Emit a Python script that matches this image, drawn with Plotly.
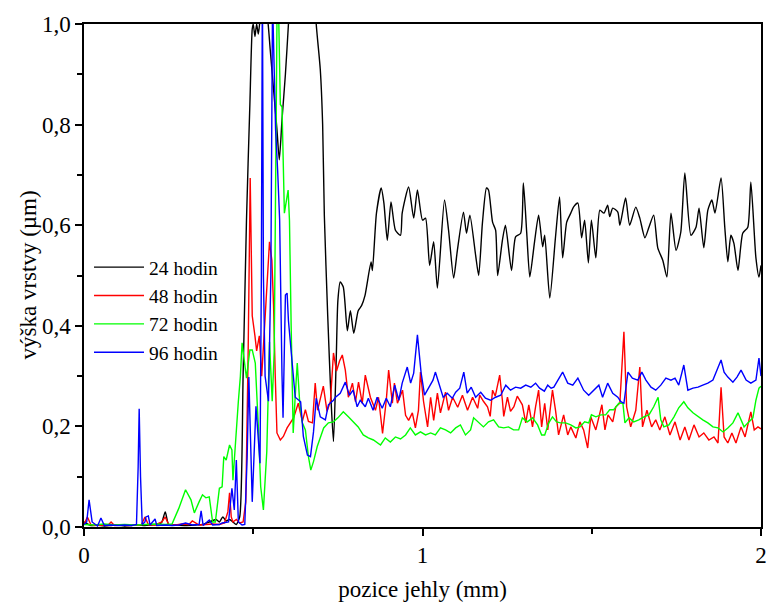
import plotly.graph_objects as go

# ---- data: 24 hodin (black) ----
x_24 = [0, 0.02, 0.04, 0.06, 0.08, 0.10, 0.12, 0.14, 0.16, 0.18, 0.20, 0.22, 0.23, 0.24, 0.25, 0.27, 0.30, 0.33,
        0.35, 0.37, 0.39, 0.40, 0.41, 0.42, 0.43, 0.44, 0.45, 0.46, 0.47, 0.48, 0.49, 0.497, 0.50, 0.505, 0.51,
        0.515, 0.52, 0.525, 0.535, 0.544, 0.55, 0.56, 0.57, 0.577, 0.585, 0.595, 0.604, 0.62, 0.65, 0.67, 0.686,
        0.698, 0.705, 0.71, 0.72, 0.73, 0.737, 0.745, 0.75, 0.757, 0.766, 0.778, 0.787, 0.797, 0.81, 0.82, 0.83,
        0.848, 0.852, 0.864, 0.878, 0.886, 0.896, 0.907, 0.92, 0.935, 0.94, 0.959, 0.974, 0.985, 1.0, 1.009,
        1.021, 1.033, 1.044, 1.065, 1.077, 1.092, 1.103, 1.121, 1.13, 1.14, 1.157, 1.166, 1.177, 1.189, 1.195,
        1.207, 1.216, 1.222, 1.236, 1.245, 1.263, 1.275, 1.29, 1.298, 1.308, 1.317, 1.331, 1.343, 1.355, 1.361,
        1.376, 1.393, 1.405, 1.414, 1.426, 1.438, 1.446, 1.459, 1.47, 1.479, 1.49, 1.499, 1.512, 1.524, 1.536,
        1.547, 1.553, 1.562, 1.577, 1.583, 1.6, 1.612, 1.63, 1.642, 1.657, 1.669, 1.683, 1.695, 1.71, 1.722,
        1.734, 1.749, 1.763, 1.775, 1.793, 1.808, 1.817, 1.831, 1.843, 1.855, 1.864, 1.882, 1.893, 1.902, 1.911,
        1.92, 1.932, 1.946, 1.961, 1.97, 1.985, 1.994, 2.0]
y_24 = [0.01, 0.003, 0.004, 0.002, 0.003, 0.004, 0.002, 0.003, 0.004, 0.003, 0.004, 0.005, 0.01, 0.03, 0.005,
        0.004, 0.003, 0.004, 0.005, 0.01, 0.015, 0.01, 0.02, 0.012, 0.015, 0.01, 0.005, 0.02, 0.3, 0.61, 0.84,
        0.99, 1.0, 0.975, 1.0, 0.98, 1.01, 1.08, 1.05, 1.0, 0.95, 0.87, 0.79, 0.73, 0.81, 0.9, 1.0, 1.2, 1.3,
        1.2, 1.0, 0.91, 0.8, 0.62, 0.42, 0.25, 0.17, 0.33, 0.45, 0.487, 0.477, 0.39, 0.43, 0.385, 0.43, 0.44,
        0.46, 0.527, 0.51, 0.624, 0.674, 0.644, 0.57, 0.646, 0.59, 0.58, 0.624, 0.676, 0.614, 0.67, 0.61, 0.614,
        0.52, 0.567, 0.475, 0.65, 0.59, 0.495, 0.55, 0.626, 0.584, 0.62, 0.54, 0.50, 0.604, 0.674, 0.67, 0.606,
        0.59, 0.50, 0.57, 0.60, 0.51, 0.577, 0.584, 0.684, 0.584, 0.497, 0.567, 0.62, 0.557, 0.58, 0.455, 0.577,
        0.656, 0.535, 0.606, 0.624, 0.636, 0.644, 0.575, 0.61, 0.525, 0.61, 0.535, 0.63, 0.624, 0.64, 0.617,
        0.634, 0.626, 0.60, 0.654, 0.60, 0.636, 0.614, 0.575, 0.596, 0.62, 0.555, 0.53, 0.497, 0.624, 0.55,
        0.586, 0.704, 0.58, 0.596, 0.634, 0.555, 0.63, 0.65, 0.624, 0.694, 0.596, 0.527, 0.58, 0.564, 0.51,
        0.584, 0.596, 0.686, 0.535, 0.497, 0.52]

# ---- data: 48 hodin (red) ----
x_48 = [0, 0.01, 0.02, 0.03, 0.05, 0.07, 0.08, 0.09, 0.11, 0.13, 0.15, 0.17, 0.18, 0.19, 0.21, 0.23, 0.24, 0.25,
        0.27, 0.29, 0.31, 0.32, 0.34, 0.36, 0.38, 0.40, 0.415, 0.425, 0.43, 0.435, 0.44, 0.45, 0.46, 0.47, 0.478,
        0.485, 0.491, 0.497, 0.50, 0.505, 0.51, 0.518, 0.525, 0.535, 0.548, 0.555, 0.56, 0.565, 0.57, 0.58,
        0.589, 0.60, 0.609, 0.619, 0.633, 0.645, 0.654, 0.663, 0.675, 0.683, 0.69, 0.707, 0.718, 0.728, 0.737,
        0.746, 0.755, 0.763, 0.772, 0.781, 0.793, 0.802, 0.811, 0.822, 0.831, 0.846, 0.861, 0.87, 0.882, 0.893,
        0.9, 0.911, 0.917, 0.926, 0.941, 0.95, 0.959, 0.97, 0.979, 0.988, 0.994, 1.003, 1.015, 1.024, 1.033,
        1.044, 1.053, 1.068, 1.077, 1.089, 1.104, 1.118, 1.133, 1.148, 1.163, 1.169, 1.18, 1.192, 1.2, 1.207,
        1.215, 1.228, 1.236, 1.24, 1.251, 1.26, 1.27, 1.28, 1.295, 1.305, 1.314, 1.325, 1.334, 1.343, 1.352,
        1.361, 1.37, 1.384, 1.393, 1.402, 1.417, 1.429, 1.438, 1.453, 1.465, 1.476, 1.488, 1.497, 1.512, 1.53,
        1.539, 1.548, 1.562, 1.571, 1.583, 1.595, 1.603, 1.615, 1.63, 1.642, 1.65, 1.663, 1.677, 1.689, 1.701,
        1.716, 1.731, 1.746, 1.761, 1.775, 1.787, 1.802, 1.817, 1.831, 1.846, 1.861, 1.873, 1.882, 1.891, 1.902,
        1.914, 1.926, 1.941, 1.953, 1.97, 1.98, 1.991, 2.0]
y_48 = [0.005, 0.02, 0.005, 0.003, 0.004, 0.003, 0.01, 0.003, 0.004, 0.003, 0.004, 0.005, 0.02, 0.005, 0.004,
        0.01, 0.02, 0.005, 0.004, 0.006, 0.005, 0.012, 0.004, 0.005, 0.006, 0.005, 0.008, 0.03, 0.068, 0.02,
        0.01, 0.015, 0.008, 0.01, 0.05, 0.35, 0.694, 0.42, 0.40, 0.38, 0.35, 0.38, 0.30, 0.41, 0.567, 0.53, 0.44,
        0.30, 0.187, 0.173, 0.18, 0.197, 0.207, 0.217, 0.246, 0.21, 0.233, 0.21, 0.207, 0.286, 0.232, 0.28,
        0.23, 0.25, 0.346, 0.31, 0.33, 0.342, 0.312, 0.258, 0.286, 0.249, 0.288, 0.246, 0.302, 0.258, 0.232,
        0.258, 0.186, 0.252, 0.312, 0.246, 0.286, 0.246, 0.272, 0.222, 0.212, 0.227, 0.197, 0.232, 0.308, 0.25,
        0.199, 0.258, 0.212, 0.266, 0.227, 0.268, 0.232, 0.258, 0.238, 0.262, 0.232, 0.258, 0.236, 0.262, 0.25,
        0.239, 0.22, 0.272, 0.26, 0.302, 0.252, 0.22, 0.258, 0.23, 0.239, 0.26, 0.243, 0.207, 0.243, 0.199,
        0.239, 0.272, 0.199, 0.246, 0.193, 0.272, 0.232, 0.183, 0.223, 0.183, 0.199, 0.177, 0.209, 0.193, 0.157,
        0.219, 0.193, 0.243, 0.193, 0.223, 0.209, 0.239, 0.246, 0.388, 0.239, 0.199, 0.232, 0.318, 0.199, 0.232,
        0.199, 0.213, 0.193, 0.219, 0.183, 0.209, 0.173, 0.199, 0.173, 0.203, 0.179, 0.187, 0.173, 0.179,
        0.167, 0.278, 0.179, 0.167, 0.187, 0.167, 0.199, 0.179, 0.229, 0.193, 0.199, 0.195]

# ---- data: 72 hodin (green) ----
x_72 = [0, 0.03, 0.06, 0.09, 0.12, 0.15, 0.18, 0.21, 0.24, 0.26, 0.28, 0.30, 0.316, 0.326, 0.34, 0.35, 0.36,
        0.37, 0.38, 0.388, 0.40, 0.408, 0.413, 0.42, 0.43, 0.437, 0.44, 0.45, 0.456, 0.462, 0.467, 0.48, 0.49,
        0.497, 0.506, 0.515, 0.522, 0.53, 0.54, 0.548, 0.556, 0.562, 0.566, 0.57, 0.575, 0.58, 0.585, 0.592,
        0.603, 0.607, 0.612, 0.618, 0.624, 0.63, 0.637, 0.645, 0.654, 0.663, 0.67, 0.678, 0.689, 0.698, 0.708,
        0.722, 0.737, 0.75, 0.766, 0.781, 0.797, 0.81, 0.825, 0.84, 0.855, 0.866, 0.876, 0.89, 0.905, 0.92,
        0.935, 0.95, 0.964, 0.979, 0.994, 1.009, 1.024, 1.038, 1.053, 1.068, 1.083, 1.098, 1.112, 1.127, 1.142,
        1.151, 1.166, 1.18, 1.195, 1.21, 1.225, 1.24, 1.254, 1.269, 1.284, 1.295, 1.31, 1.325, 1.34, 1.352,
        1.361, 1.373, 1.384, 1.396, 1.408, 1.423, 1.438, 1.453, 1.465, 1.479, 1.491, 1.499, 1.512, 1.527, 1.541,
        1.553, 1.565, 1.58, 1.592, 1.598, 1.61, 1.624, 1.639, 1.654, 1.669, 1.683, 1.696, 1.704, 1.713, 1.728,
        1.743, 1.757, 1.772, 1.784, 1.799, 1.814, 1.828, 1.843, 1.858, 1.873, 1.888, 1.902, 1.917, 1.932, 1.941,
        1.95, 1.961, 1.976, 1.985, 1.994, 2.0]
y_72 = [0.005, 0.004, 0.006, 0.004, 0.005, 0.004, 0.005, 0.006, 0.005, 0.006, 0.037, 0.074, 0.054, 0.028, 0.05,
        0.064, 0.058, 0.06, 0.01, 0.01, 0.077, 0.08, 0.14, 0.133, 0.163, 0.153, 0.093, 0.2, 0.25, 0.3, 0.366,
        0.296, 0.352, 0.352, 0.326, 0.2, 0.08, 0.034, 0.15, 0.368, 0.25, 0.35, 0.7, 1.0, 1.02, 0.84, 0.835,
        0.624, 0.67, 0.61, 0.4, 0.187, 0.26, 0.326, 0.25, 0.207, 0.193, 0.14, 0.113, 0.13, 0.16, 0.177, 0.197,
        0.207, 0.209, 0.217, 0.229, 0.219, 0.209, 0.199, 0.183, 0.177, 0.173, 0.167, 0.163, 0.177, 0.169, 0.179,
        0.175, 0.183, 0.197, 0.183, 0.189, 0.183, 0.187, 0.183, 0.197, 0.193, 0.187, 0.197, 0.203, 0.183, 0.193,
        0.217, 0.207, 0.199, 0.209, 0.213, 0.199, 0.197, 0.199, 0.193, 0.193, 0.217, 0.209, 0.217, 0.203, 0.183,
        0.183, 0.207, 0.219, 0.209, 0.207, 0.207, 0.203, 0.197, 0.199, 0.209, 0.207, 0.223, 0.219, 0.223, 0.223,
        0.233, 0.233, 0.246, 0.246, 0.207, 0.217, 0.209, 0.213, 0.219, 0.223, 0.239, 0.258, 0.213, 0.199, 0.203,
        0.219, 0.237, 0.249, 0.237, 0.227, 0.219, 0.213, 0.207, 0.199, 0.197, 0.189, 0.197, 0.207, 0.227, 0.213,
        0.199, 0.207, 0.217, 0.252, 0.276, 0.28]

# ---- data: 96 hodin (blue) ----
x_96 = [0, 0.008, 0.015, 0.024, 0.04, 0.05, 0.06, 0.08, 0.10, 0.12, 0.14, 0.155, 0.16, 0.163, 0.167, 0.172, 0.18,
        0.183, 0.19, 0.195, 0.21, 0.215, 0.24, 0.26, 0.28, 0.30, 0.32, 0.34, 0.346, 0.352, 0.37, 0.38, 0.40,
        0.408, 0.427, 0.437, 0.444, 0.45, 0.456, 0.467, 0.475, 0.482, 0.487, 0.497, 0.508, 0.52, 0.524, 0.527,
        0.53, 0.535, 0.545, 0.552, 0.557, 0.566, 0.572, 0.578, 0.585, 0.588, 0.595, 0.60, 0.604, 0.615, 0.624,
        0.64, 0.648, 0.66, 0.669, 0.678, 0.686, 0.698, 0.713, 0.722, 0.728, 0.737, 0.743, 0.757, 0.772, 0.784,
        0.795, 0.807, 0.816, 0.831, 0.84, 0.854, 0.866, 0.881, 0.893, 0.905, 0.918, 0.93, 0.94, 0.955, 0.965,
        0.974, 0.985, 0.996, 1.006, 1.018, 1.031, 1.038, 1.048, 1.061, 1.073, 1.088, 1.098, 1.11, 1.122, 1.132,
        1.144, 1.157, 1.172, 1.186, 1.201, 1.216, 1.231, 1.246, 1.26, 1.275, 1.29, 1.305, 1.32, 1.334, 1.346,
        1.36, 1.37, 1.38, 1.388, 1.399, 1.414, 1.429, 1.444, 1.459, 1.476, 1.491, 1.506, 1.521, 1.532, 1.547,
        1.562, 1.577, 1.586, 1.595, 1.607, 1.62, 1.636, 1.648, 1.66, 1.675, 1.689, 1.704, 1.719, 1.734, 1.746,
        1.757, 1.772, 1.784, 1.799, 1.814, 1.828, 1.843, 1.858, 1.873, 1.882, 1.891, 1.902, 1.917, 1.929, 1.941,
        1.956, 1.97, 1.985, 1.994, 2.0]
y_96 = [0.005, 0.01, 0.054, 0.01, 0.002, 0.018, 0.003, 0.004, 0.003, 0.004, 0.003, 0.005, 0.12, 0.235, 0.1,
        0.005, 0.01, 0.02, 0.022, 0.004, 0.016, 0.003, 0.004, 0.003, 0.004, 0.008, 0.004, 0.005, 0.032, 0.003,
        0.014, 0.004, 0.005, 0.008, 0.01, 0.077, 0.034, 0.133, 0.01, 0.004, 0.005, 0.14, 0.298, 0.05, 0.24,
        0.127, 0.5, 1.1, 0.5, 0.3, 0.25, 0.5, 1.05, 0.79, 0.71, 0.61, 0.3, 0.217, 0.461, 0.465, 0.41, 0.33,
        0.258, 0.249, 0.18, 0.143, 0.14, 0.189, 0.256, 0.219, 0.213, 0.243, 0.246, 0.252, 0.258, 0.266, 0.288,
        0.262, 0.272, 0.239, 0.252, 0.239, 0.256, 0.232, 0.258, 0.236, 0.256, 0.239, 0.282, 0.252, 0.286, 0.318,
        0.286, 0.306, 0.382, 0.306, 0.262, 0.278, 0.292, 0.308, 0.286, 0.258, 0.266, 0.256, 0.268, 0.276, 0.308,
        0.266, 0.278, 0.258, 0.268, 0.256, 0.252, 0.258, 0.262, 0.282, 0.272, 0.278, 0.276, 0.282, 0.278, 0.286,
        0.276, 0.27, 0.282, 0.276, 0.278, 0.292, 0.308, 0.286, 0.282, 0.296, 0.272, 0.262, 0.272, 0.282, 0.258,
        0.286, 0.266, 0.258, 0.249, 0.246, 0.308, 0.296, 0.292, 0.308, 0.292, 0.278, 0.272, 0.282, 0.296, 0.292,
        0.296, 0.282, 0.322, 0.272, 0.276, 0.278, 0.282, 0.286, 0.292, 0.318, 0.332, 0.308, 0.298, 0.288, 0.298,
        0.312, 0.292, 0.286, 0.292, 0.336, 0.30]

series_names = ["24 hodin", "48 hodin", "72 hodin", "96 hodin"]
series_colors = ["#000000", "#FF0000", "#00FF00", "#0000FF"]
x_tick_vals = [0, 1, 2]
x_tick_text = ["0", "1", "2"]
y_tick_vals = [0, 0.2, 0.4, 0.6, 0.8, 1.0]
y_tick_text = ["0,0", "0,2", "0,4", "0,6", "0,8", "1,0"]
x_title = "pozice jehly (mm)"
y_title = "výška vrstvy (µm)"

FONT = "Liberation Serif"

fig = go.Figure()
for xs, ys, name, col in zip([x_24, x_48, x_72, x_96], [y_24, y_48, y_72, y_96], series_names, series_colors):
    smooth = name == "24 hodin"
    fig.add_trace(go.Scatter(x=xs, y=ys, mode="lines", name=name,
                             line=dict(color=col, width=1.4,
                                       shape="spline" if smooth else "linear",
                                       smoothing=0.6 if smooth else None)))

axis_common = dict(showline=True, linecolor="#000000", linewidth=1.5, mirror=True,
                   ticks="outside", ticklen=7, tickwidth=1.5, tickcolor="#000000",
                   showgrid=False, zeroline=False, automargin=False,
                   tickfont=dict(family=FONT, size=23, color="#000000"))

fig.update_xaxes(range=[0, 2], tickvals=x_tick_vals, ticktext=x_tick_text,
                 minor=dict(ticks="outside", ticklen=5, tickwidth=1.5, tickcolor="#000000", dtick=0.5, tick0=0),
                 title=dict(text=x_title, font=dict(family=FONT, size=23, color="#000000"), standoff=14),
                 **axis_common)
fig.update_yaxes(range=[0, 1.0], tickvals=y_tick_vals, ticktext=y_tick_text,
                 minor=dict(ticks="outside", ticklen=5, tickwidth=1.5, tickcolor="#000000", dtick=0.1, tick0=0),
                 **axis_common)

# y-axis title placed just left of the tick labels
fig.add_annotation(text=y_title, textangle=-90, xref="paper", yref="paper", x=0, y=0.5,
                   xshift=-56, xanchor="center", yanchor="middle", showarrow=False,
                   font=dict(family=FONT, size=23, color="#000000"))

fig.update_layout(
    width=770, height=607,
    margin=dict(l=84, r=9, t=24, b=80),
    paper_bgcolor="#FFFFFF", plot_bgcolor="#FFFFFF",
    font=dict(family=FONT, color="#000000"),
    legend=dict(x=0.0074, y=0.5547, xanchor="left", yanchor="top",
                bgcolor="rgba(0,0,0,0)", borderwidth=0, itemwidth=50,
                font=dict(family=FONT, size=19.5, color="#000000"),
                tracegroupgap=0),
    showlegend=True,
)

fig.write_html("out.html", post_script="document.body.style.margin='0';",
               config={"displayModeBar": False})
